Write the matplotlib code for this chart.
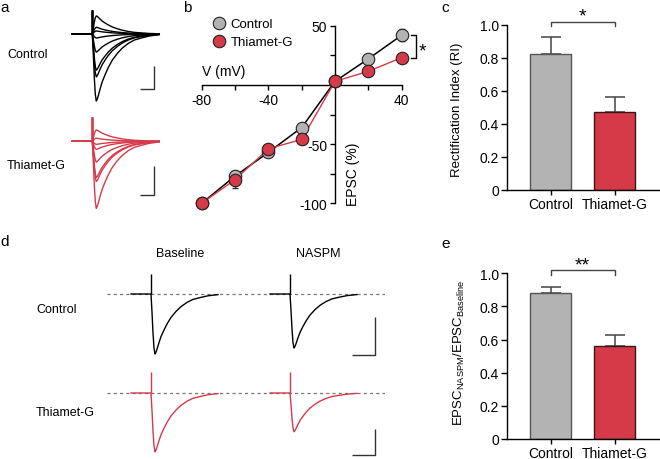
"""
EPSC traces, I-V curve and NASPM sensitivity (Control vs Thiamet-G)
"""
import numpy as np
import matplotlib.pyplot as plt
from matplotlib.lines import Line2D

plt.rcParams['font.family'] = ['Liberation Sans', 'DejaVu Sans']
plt.rcParams['mathtext.fontset'] = 'custom'
plt.rcParams['mathtext.rm'] = 'Liberation Sans'
plt.rcParams['axes.linewidth'] = 1.0

# ---- data ----
groups = ['Control', 'Thiamet-G']

# panel b: I-V relationship (% of EPSC at -80 mV)
volts = [-80, -60, -40, -20, 0, 20, 40]
iv_ctrl = [-100, -77, -57, -36, 3, 22, 42]
iv_ctrl_err = [0, 4, 2, 2, 1, 4, 5]
iv_thg = [-100, -80, -54, -46, 3, 11.5, 23]
iv_thg_err = [0, 7, 2, 4, 1, 2, 3]

# panel c: rectification index
ri = [0.82, 0.473]
ri_err = [0.107, 0.087]

# panel e: EPSC(NASPM) / EPSC(Baseline)
ratio = [0.881, 0.561]
ratio_err = [0.038, 0.067]

# EPSC waveform (time in ms, peak = 1)
tmpl_t = [-20, 0, 1, 2, 3, 4, 5, 6, 8, 10, 13, 16, 20, 25, 30, 36, 42, 49, 57, 67]
tmpl_v = [0, 0, 0.3, 0.65, 0.9, 1.0, 0.97, 0.92, 0.81, 0.71, 0.6, 0.5, 0.39,
          0.29, 0.21, 0.14, 0.09, 0.06, 0.03, 0.01]

# panel a: example trace families, peak amplitude (% of largest, inward < 0)
amp_a_ctrl = [27, 10, 4.5, -6, -27, -54, -64, -100]
amp_a_thg = [17, 4.5, -4.5, -12, -31, -54, -60, -100]

# panel d: baseline and NASPM example traces (% of control baseline)
amp_d_ctrl = [-100, -90]
amp_d_thg = [-98, -64.5]
d_offsets = [0, 139]   # ms between the two sweeps drawn side by side

black = 'black'
red = '#d63a48'
grey = '#b3b3b3'

W, H = 660, 460
fig = plt.figure(figsize=(W / 100, H / 100), dpi=100)


def px_axes(x0, y0, x1, y1):
    return fig.add_axes([x0 / W, 1 - y1 / H, (x1 - x0) / W, (y1 - y0) / H])


def ftext(x, y, s, **kw):
    fig.text(x / W, 1 - y / H, s, **kw)


def trace_ax(x0, x1, y0, y1, t0, base, k):
    # k = pixels per % ; 1 ms = 1 px
    ax = px_axes(x0, y0, x1, y1)
    ax.set_xlim(x0 - t0, x1 - t0)
    ax.set_ylim((base - y1) / k, (base - y0) / k)
    ax.axis('off')
    return ax


def draw_trace(ax, amp, color, offset=0, art=35):
    t = np.array(tmpl_t) + offset
    v = amp * np.array(tmpl_v)
    ax.plot(t, v, color=color, lw=1.0, solid_joinstyle='round')
    ax.vlines(offset, 0, art, color=color, lw=1.0)


def scale_bar(ax, x, y_top, y_bot, length):
    ax.plot([x - length, x, x], [y_bot, y_bot, y_top], color='#333333', lw=1.0,
            solid_capstyle='butt')


# ---- panel a ----
ax_a1 = trace_ax(60, 165, 5, 112, 92.3, 35, 0.67)
for amp in amp_a_ctrl:
    draw_trace(ax_a1, amp, black, art=35.8)
scale_bar(ax_a1, 61.7, -47.3, -82.1, 14)

ax_a2 = trace_ax(60, 165, 112, 218, 92.3, 142.3, 0.67)
for amp in amp_a_thg:
    draw_trace(ax_a2, amp, red, art=35.8)
scale_bar(ax_a2, 61.7, -36.9, -80.6, 14)

ftext(7, 55, 'Control', fontsize=9, va='center')
ftext(7, 166, 'Thiamet-G', fontsize=9, va='center')

# ---- panel b ----
ax_b = px_axes(201.7, 26.7, 401.7, 204.3)
ax_b.errorbar(volts, iv_ctrl, yerr=iv_ctrl_err, fmt='none', ecolor='#333333',
              elinewidth=0.9, capsize=2.5, zorder=2, clip_on=False)
ax_b.errorbar(volts, iv_thg, yerr=iv_thg_err, fmt='none', ecolor='#333333',
              elinewidth=0.9, capsize=2.5, zorder=2, clip_on=False)
ax_b.plot(volts, iv_ctrl, '-', color=black, lw=1.1, zorder=3, clip_on=False)
ax_b.plot(volts, iv_thg, '-', color=red, lw=1.0, zorder=4, clip_on=False)
ax_b.plot(volts, iv_ctrl, 'o', ms=9, mfc=grey, mec='#222222', mew=0.8,
          zorder=5, clip_on=False)
ax_b.plot(volts, iv_thg, 'o', ms=9, mfc=red, mec='#222222', mew=0.8,
          zorder=6, clip_on=False)
ax_b.set_xlim(-80, 40)
ax_b.set_ylim(-100, 50)
ax_b.spines['left'].set_position(('data', 0))
ax_b.spines['bottom'].set_position(('data', 0))
ax_b.spines['top'].set_visible(False)
ax_b.spines['right'].set_visible(False)
ax_b.set_xticks([-80, -60, -40, -20, 20, 40], ['-80', '', '-40', '', '', '40'])
ax_b.set_yticks([-100, -75, -50, -25, 25, 50], ['-100', '', '-50', '', '', '50'])
ax_b.tick_params(direction='out', length=3.5, width=1.0, labelsize=10, pad=2)
ax_b.text(-80, 6, 'V (mV)', fontsize=10, ha='left', va='bottom')
ax_b.text(10.5, -75, 'EPSC (%)', fontsize=10, rotation=90, ha='center',
          va='center')
# significance bracket at +40 mV
xb = 48.4
ax_b.plot([xb - 3, xb, xb, xb - 3], [iv_ctrl[-1], iv_ctrl[-1], iv_thg[-1], iv_thg[-1]],
          color=black, lw=1.0, clip_on=False)
ax_b.text(xb + 4, (iv_ctrl[-1] + iv_thg[-1]) / 2 - 4, '*', fontsize=14,
          ha='center', va='center')
handles = [Line2D([], [], marker='o', ls='none', ms=9, mfc=grey, mec='#222222', mew=0.8),
           Line2D([], [], marker='o', ls='none', ms=9, mfc=red, mec='#222222', mew=0.8)]
fig.legend(handles, groups, loc='upper left', bbox_to_anchor=(214 / W, 1 - 19 / H),
           frameon=False, fontsize=9.5, handlelength=0.8, handletextpad=0.45,
           labelspacing=0.45, borderpad=0, borderaxespad=0)


# ---- bar panels c and e ----
def bar_panel(y0, y1, vals, errs, stars):
    ax = px_axes(507.3, y0, 660, y1)
    x = np.arange(len(groups))
    ax.bar(x, vals, width=0.636, color=[grey, red],
           edgecolor=['#555555', '#3a1518'], linewidth=1.0, zorder=2)
    ax.errorbar(x, vals, yerr=[np.zeros(len(vals)), errs], fmt='none',
                ecolor='#444444', elinewidth=1.1, capsize=7.5, capthick=1.1,
                zorder=1)
    ax.set_xlim(-0.67, 1.698)
    ax.set_ylim(0, 1)
    ax.spines['top'].set_visible(False)
    ax.spines['right'].set_visible(False)
    ax.set_xticks(x, groups)
    ax.set_yticks([0, 0.2, 0.4, 0.6, 0.8, 1.0], ['0', '0.2', '0.4', '0.6', '0.8', '1.0'])
    ax.tick_params(direction='out', length=4, width=1.0, labelsize=10, pad=2)
    ax.tick_params(axis='x', length=3.5, pad=1.5)
    ax.plot([0, 0, 1, 1], [0.99, 1.017, 1.017, 0.99], color='#444444', lw=1.0,
            clip_on=False)
    ax.text(0.5, 1.05, stars, fontsize=14, ha='center', va='center')
    return ax


ax_c = bar_panel(25.7, 190.7, ri, ri_err, '*')
ax_e = bar_panel(274.3, 440, ratio, ratio_err, '**')
ftext(457, 110, 'Rectification Index (RI)', fontsize=9.5, rotation=90,
      ha='center', va='center')
ftext(459, 353, r'EPSC$_{\mathregular{NASPM}}$/EPSC$_{\mathregular{Baseline}}$',
      fontsize=9.5, rotation=90, ha='center', va='center')

# ---- panel d ----
ax_d1 = trace_ax(107, 385, 262, 365, 151, 295, 0.6)
ax_d1.axhline(0, ls=(0, (2.5, 2.5)), color='#777777', lw=0.9, zorder=0)
for amp, off in zip(amp_d_ctrl, d_offsets):
    draw_trace(ax_d1, amp, black, offset=off, art=33)
scale_bar(ax_d1, 224, -38.3, -101.7, 23)

ax_d2 = trace_ax(107, 385, 365, 460, 151, 394, 0.6)
ax_d2.axhline(0, ls=(0, (2.5, 2.5)), color='#777777', lw=0.9, zorder=0)
for amp, off in zip(amp_d_thg, d_offsets):
    draw_trace(ax_d2, amp, red, offset=off, art=35)
scale_bar(ax_d2, 224, -60, -103.3, 23)

ftext(36, 310, 'Control', fontsize=9, va='center')
ftext(36, 413, 'Thiamet-G', fontsize=9, va='center')
ftext(180, 254, 'Baseline', fontsize=9, ha='center', va='center')
ftext(318, 254, 'NASPM', fontsize=9, ha='center', va='center')

# panel letters
for lx, ly, letter in [(0, 8, 'a'), (183, 8, 'b'), (441, 8, 'c'),
                       (0, 242, 'd'), (441, 244, 'e')]:
    ftext(lx, ly, letter, fontsize=11, va='center')

fig.savefig('out.png', dpi=100)
